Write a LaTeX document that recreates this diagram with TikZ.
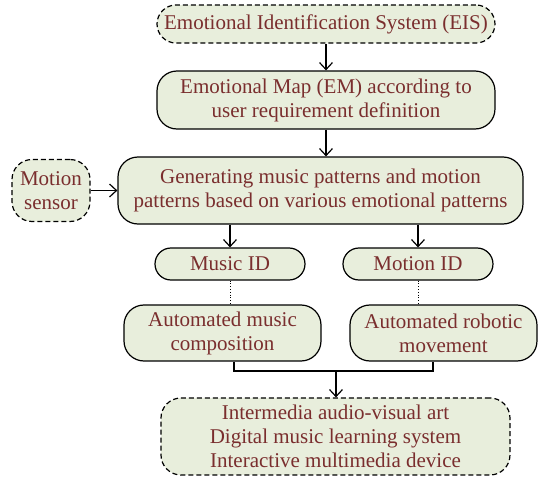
\documentclass[tikz,border=0pt]{standalone}
\usepackage{fontspec}
\setmainfont{Liberation Serif}
\usetikzlibrary{positioning,arrows.meta}
\definecolor{boxfill}{HTML}{E8EEDC}
\definecolor{boxtext}{HTML}{7A2E2E}

\begin{document}
\begin{tikzpicture}[x=1pt,y=1pt,>={Straight Barb[length=3.5pt,width=6.5pt]},line width=0.6pt,on grid,
  box/.style={draw,rounded corners=10pt,fill=boxfill,text=boxtext,align=center,inner sep=0pt,
    font=\fontsize{10.5}{12}\selectfont},
  dbox/.style={box,dash pattern=on 2.5pt off 1.5pt},
  idbox/.style={box,rounded corners=8pt,minimum width=75pt,minimum height=16pt}]
\useasboundingbox (0,0) rectangle (269,-238.5);

\node[dbox,rounded corners=9.5pt,minimum width=169pt,minimum height=19pt] (eis) at (163,-12) {Emotional Identification System (EIS)};
\node[box,minimum width=169pt,minimum height=29pt] (em) [below=38pt of eis] {Emotional Map (EM) according to\\user requirement definition};
\node[box,minimum width=202.5pt,minimum height=33.5pt] (gen) [below=45.25pt of em,xshift=-2.75pt] {Generating music patterns and motion\\patterns based on various emotional patterns};
\node[dbox,minimum width=39pt,minimum height=31pt] (sensor) [left=134.75pt of gen] {Motion\\sensor};
\node[idbox] (musicid) [below=36.75pt of gen,xshift=-45.25pt] {Music ID};
\node[idbox] (motionid) [right=94pt of musicid] {Motion ID};
\node[box,minimum width=98.5pt,minimum height=28pt] (compose) [below=34.5pt of musicid,xshift=-3.75pt] {Automated music\\composition};
\node[box,minimum width=93.5pt,minimum height=28pt] (robot) [below=34.5pt of motionid,xshift=12.75pt] {Automated robotic\\movement};
\node[dbox,minimum width=174.5pt,minimum height=38.5pt] (apps) at (167.75,-218.25) {Intermedia audio-visual art\\Digital music learning system\\Interactive multimedia device};
\coordinate (merge) at (168,-185.5);

\draw[->] (eis) -- (em);
\draw[->] (em.south) -- (em.south |- gen.north);
\draw[->] (sensor) -- (sensor -| gen.west);
\draw[->] (gen.south -| musicid.north) -- (musicid.north);
\draw[->] (gen.south -| motionid.north) -- (motionid.north);
\draw[densely dotted,line width=0.4pt] (musicid.south) -- (musicid.south |- compose.north);
\draw[densely dotted,line width=0.4pt] (motionid.south) -- (motionid.south |- robot.north);
\draw ([xshift=5.75pt]compose.south) |- (merge) -| ([xshift=-5.25pt]robot.south);
\draw[->] (merge) -- (merge |- apps.north);
\end{tikzpicture}
\end{document}
